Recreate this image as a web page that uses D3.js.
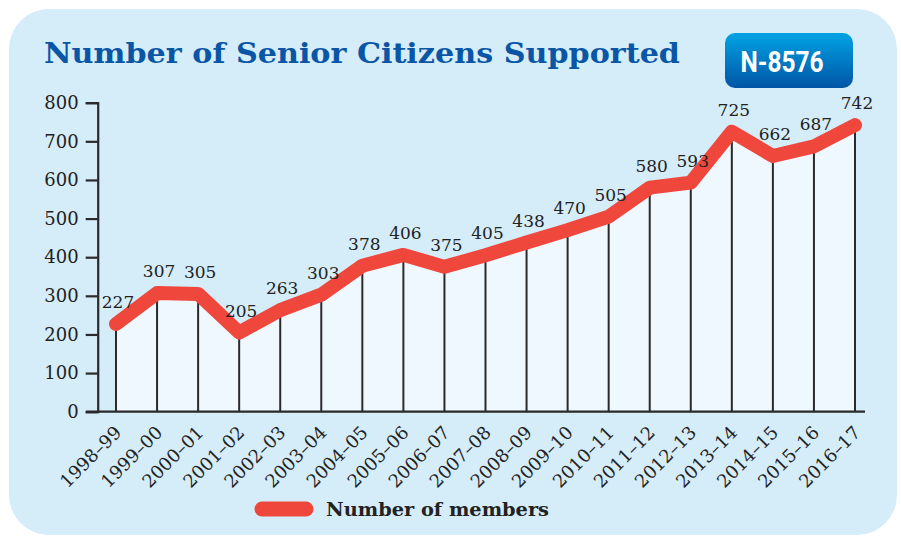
<!DOCTYPE html>
<html><head><meta charset="utf-8">
<script src="https://cdn.jsdelivr.net/npm/d3@7/dist/d3.min.js"></script>
<style>html,body{margin:0;padding:0;background:#fff;}svg{display:block;}</style>
</head><body>
<svg id="chart" width="901" height="536"></svg>
<script>
const categories = ["1998–99","1999–00","2000–01","2001–02","2002–03","2003–04","2004–05","2005–06","2006–07","2007–08","2008–09","2009–10","2010–11","2011–12","2012–13","2013–14","2014–15","2015–16","2016–17"];
const members = [227,307,305,205,263,303,378,406,375,405,438,470,505,580,593,725,662,687,742];
const yTicks = [0,100,200,300,400,500,600,700,800];
const titleText = "Number of Senior Citizens Supported";
const badgeText = "N-8576";
const legendText = "Number of members";

const svg = d3.select("#chart");
const defs = svg.append("defs");
const grad = defs.append("linearGradient").attr("id","badge").attr("x1",0).attr("y1",0).attr("x2",0).attr("y2",1);
grad.append("stop").attr("offset","0%").attr("stop-color","#00a3e4");
grad.append("stop").attr("offset","100%").attr("stop-color","#0055a6");

// panel
svg.append("rect").attr("x",9).attr("y",9).attr("width",888).attr("height",526).attr("rx",40).attr("fill","#d5ecf9");

// title
svg.append("text").attr("x",44).attr("y",63).text(titleText)
  .attr("font-family","DejaVu Serif").attr("font-weight","bold").attr("font-size",28)
  .attr("fill","#0a56a6").attr("textLength",636).attr("lengthAdjust","spacingAndGlyphs");

// badge
svg.append("rect").attr("x",725).attr("y",33).attr("width",128).attr("height",55).attr("rx",10).attr("fill","url(#badge)");
svg.append("text").attr("x",782).attr("y",72).attr("text-anchor","middle").text(badgeText)
  .attr("font-family","Liberation Sans Narrow, Roboto, sans-serif").attr("font-weight","bold").attr("font-size",30)
  .attr("fill","#fff").attr("textLength",83).attr("lengthAdjust","spacingAndGlyphs");

const x = d3.scalePoint().domain(categories).range([116,855]);
const y = d3.scaleLinear().domain([0,800]).range([411.7,102.7]);
const data = categories.map((c,i)=>({c, v: members[i]}));

// area under line
svg.append("path").datum(data)
  .attr("d", d3.area().x(d=>x(d.c)).y0(y(0)).y1(d=>y(d.v)))
  .attr("fill","#eff8fe");

// drop lines
svg.append("g").selectAll("line").data(data).join("line")
  .attr("x1",d=>x(d.c)).attr("x2",d=>x(d.c)).attr("y1",d=>y(d.v)).attr("y2",y(0))
  .attr("stroke","#2a2a2a").attr("stroke-width",2);

// y axis
const yAxis = svg.append("g").attr("transform","translate(97.7,0)")
  .call(d3.axisLeft(y).tickValues(yTicks).tickSize(12).tickSizeOuter(12).tickPadding(7));
yAxis.select(".domain").attr("stroke","#2a2a2a").attr("stroke-width",2.2);
yAxis.selectAll(".tick line").attr("stroke","#2a2a2a").attr("stroke-width",2.2);
yAxis.selectAll(".tick text").attr("font-family","DejaVu Serif").attr("font-size",18).attr("fill","#222");

// x axis
const xAxis = svg.append("g").attr("transform",`translate(0,${y(0)})`)
  .call(d3.axisBottom(x).tickSize(0).tickPadding(0));
xAxis.select(".domain").attr("d",`M86,0H865`).attr("stroke","#2a2a2a").attr("stroke-width",2.2);
xAxis.selectAll(".tick text").attr("font-family","DejaVu Serif").attr("font-size",18).attr("fill","#222")
  .attr("text-anchor","end").attr("y",0).attr("dy",0).attr("transform","translate(6,22) rotate(-45)");

// line
svg.append("path").datum(data)
  .attr("d", d3.line().x(d=>x(d.c)).y(d=>y(d.v)))
  .attr("fill","none").attr("stroke","#f0473d").attr("stroke-width",14)
  .attr("stroke-linejoin","round").attr("stroke-linecap","round");

// value labels
svg.append("g").selectAll("text").data(data).join("text")
  .attr("x",d=>x(d.c)+2).attr("y",d=>y(d.v)-16).attr("text-anchor","middle")
  .attr("font-family","DejaVu Serif").attr("font-size",17).attr("fill","#222")
  .text(d=>d.v);

// legend
svg.append("line").attr("x1",262).attr("x2",306).attr("y1",509).attr("y2",509)
  .attr("stroke","#f0473d").attr("stroke-width",15).attr("stroke-linecap","round");
svg.append("text").attr("x",326).attr("y",516).text(legendText)
  .attr("font-family","DejaVu Serif").attr("font-weight","bold").attr("font-size",18).attr("fill","#222")
  .attr("textLength",223).attr("lengthAdjust","spacingAndGlyphs");
</script>
</body></html>
